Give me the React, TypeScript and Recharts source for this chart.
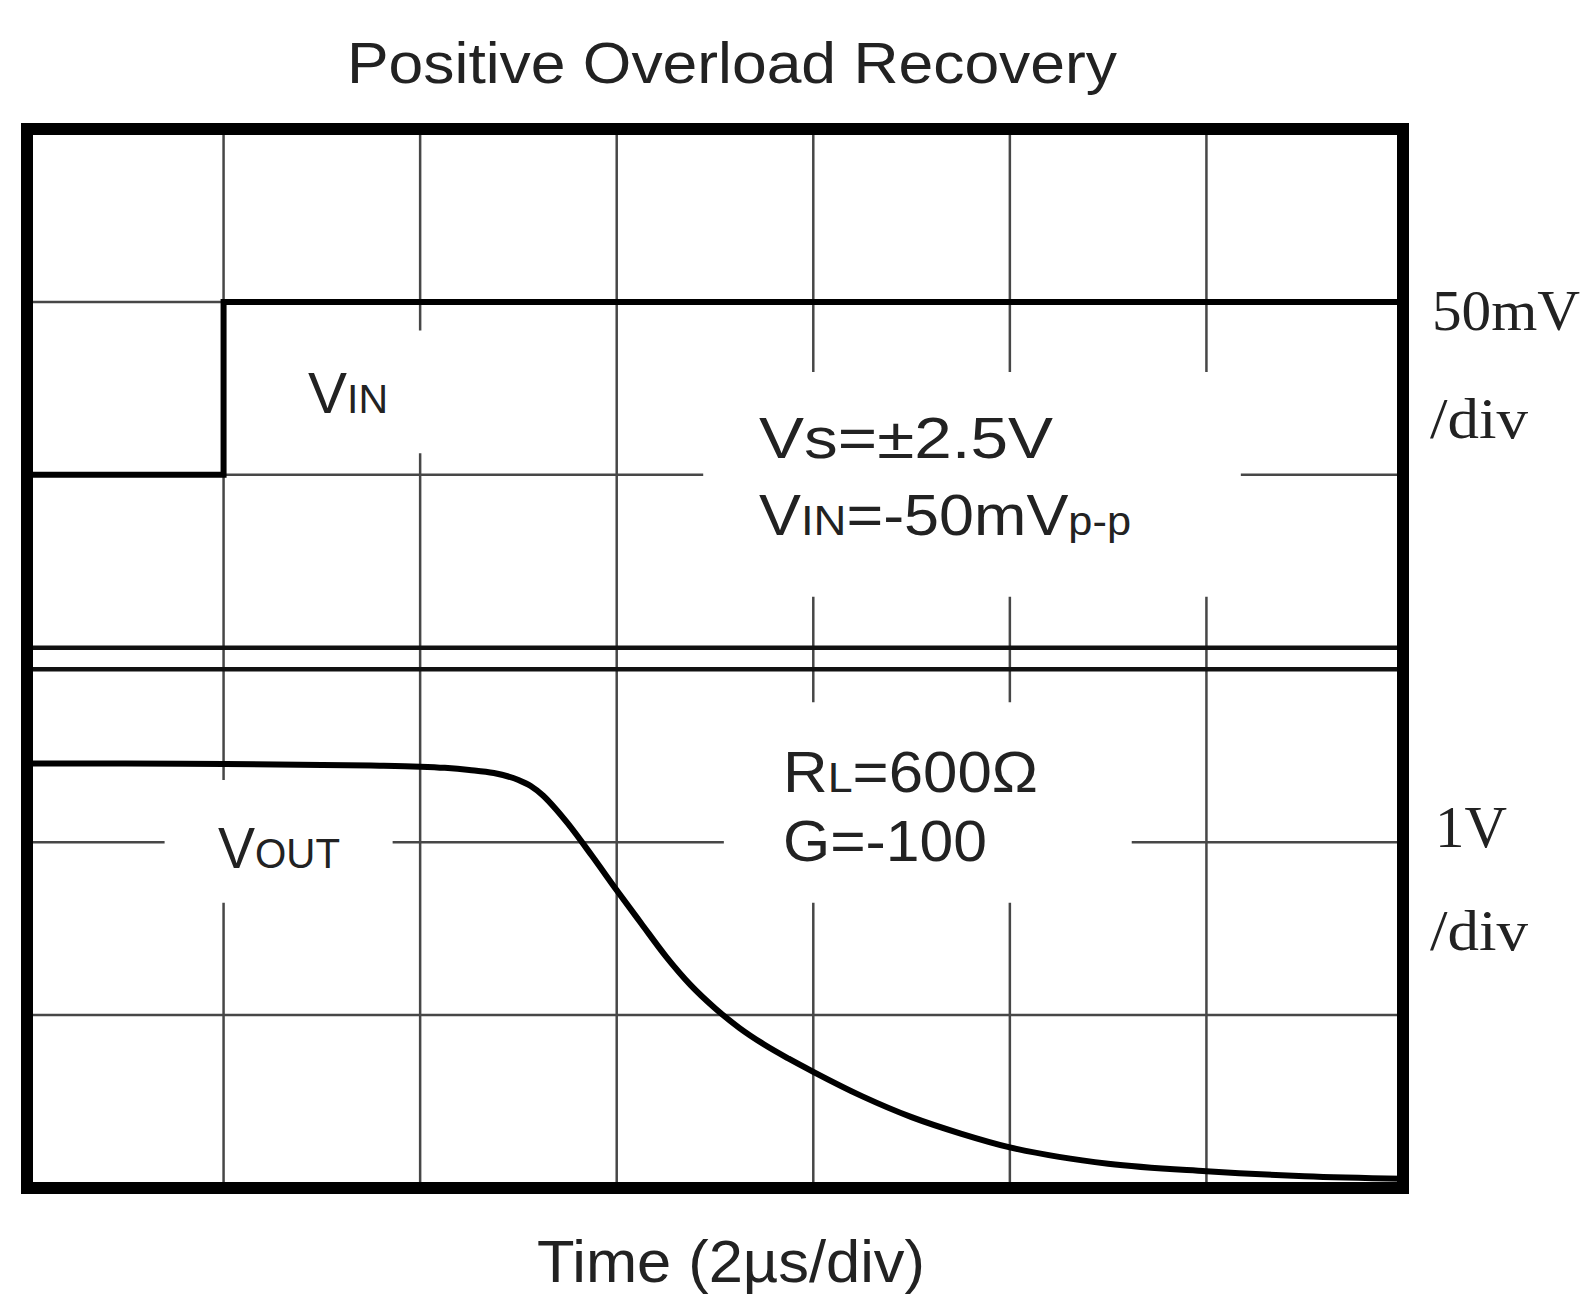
import React from "react";
import {
    ComposedChart, Line, XAxis, YAxis, CartesianGrid, ReferenceLine, ReferenceArea, Customized
} from "recharts";

// time in us, 2us/div, 7 divisions
const timeTicks = [2, 4, 6, 8, 10, 12];

// input step, mV (50mV/div)
const vinTime = [0, 2, 14];
const vinLevel = [-25, 25, 25];

// output recovery, V (1V/div)
const voutTime = [0, 1, 2, 3, 3.5, 4.0, 4.25, 4.5, 4.75, 5.0, 5.125, 5.25, 5.375, 5.5, 5.75, 6.0, 6.25, 6.5, 6.75, 7.0, 7.25, 7.5, 7.75, 8.0, 8.5, 9.0, 9.5, 10.0, 10.5, 11.0, 12.0, 13.0, 14.0];
const voutLevel = [2.455, 2.455, 2.452, 2.447, 2.443, 2.437, 2.43, 2.418, 2.4, 2.36, 2.325, 2.27, 2.195, 2.11, 1.92, 1.722, 1.53, 1.34, 1.175, 1.04, 0.925, 0.83, 0.748, 0.672, 0.53, 0.41, 0.315, 0.235, 0.18, 0.14, 0.097, 0.068, 0.053];

// horizontal grid per panel
const vinGrid = [-25, 25];
const voutGrid = [1, 2];

const vinData = vinTime.map((t, i) => ({ t, vin: vinLevel[i] }));
const voutData = voutTime.map((t, i) => ({ t, vout: voutLevel[i] }));

// axis layout: bottom panel 0..3 V, small gap, top panel 3 divs of 50mV
const PANEL_GAP = 0.125;
const VOUT_DOMAIN = [0, 6 + PANEL_GAP];
const VIN_DOMAIN = [-75 - (3 + PANEL_GAP) * 50, 75];

// white backgrounds behind the annotations (they break the grid)
const labelBoxes = [
    { t1: 2.57, t2: 4.1, v1: 4.25, v2: 4.96 },
    { t1: 6.88, t2: 12.35, v1: 3.42, v2: 4.72 },
    { t1: 1.4, t2: 3.72, v1: 1.65, v2: 2.36 },
    { t1: 7.09, t2: 11.24, v1: 1.65, v2: 2.81 },
];

const SANS = "'Liberation Sans', Arial, sans-serif";
const SERIF = "'Liberation Serif', 'Times New Roman', serif";
const INK = "#222";
const GRID = "#474747";

type Run = { s: string; size: number };

const Txt = ({ x, y, w, runs, family = SANS }: { x: number; y: number; w: number; runs: Run[]; family?: string }) => (
    <text x={x} y={y} textLength={w} lengthAdjust="spacingAndGlyphs" fontFamily={family} fill={INK}>
        {runs.map((r, i) => (
            <tspan key={i} fontSize={r.size}>{r.s}</tspan>
        ))}
    </text>
);

const Annotations = () => (
    <g>
        <Txt x={347} y={83} w={770} runs={[{ s: "Positive Overload Recovery", size: 57 }]} />
        <Txt x={537} y={1282} w={388} runs={[{ s: "Time (2µs/div)", size: 59 }]} />

        <Txt x={308} y={413} w={80} runs={[{ s: "V", size: 57 }, { s: "IN", size: 40 }]} />
        <Txt x={759} y={458} w={294} runs={[{ s: "Vs=±2.5V", size: 58 }]} />
        <Txt x={759} y={535} w={372} runs={[{ s: "V", size: 58 }, { s: "IN", size: 42 }, { s: "=-50mV", size: 58 }, { s: "p-p", size: 40 }]} />

        <Txt x={218} y={868} w={122} runs={[{ s: "V", size: 58 }, { s: "OUT", size: 42 }]} />
        <Txt x={783} y={792} w={255} runs={[{ s: "R", size: 58 }, { s: "L", size: 42 }, { s: "=600Ω", size: 58 }]} />
        <Txt x={783} y={861} w={204} runs={[{ s: "G=-100", size: 58 }]} />

        <Txt x={1432} y={330} w={148} family={SERIF} runs={[{ s: "50mV", size: 57 }]} />
        <Txt x={1430} y={438} w={98} family={SERIF} runs={[{ s: "/div", size: 58 }]} />
        <Txt x={1435} y={847} w={72} family={SERIF} runs={[{ s: "1V", size: 60 }]} />
        <Txt x={1430} y={950} w={98} family={SERIF} runs={[{ s: "/div", size: 58 }]} />
    </g>
);

export default function App() {
    return (
        <div style={{ position: "absolute", left: 0, top: 0, width: 1584, height: 1298, background: "#fff" }}>
            <ComposedChart
                width={1584}
                height={1298}
                margin={{ top: 129, right: 181, bottom: 110, left: 27 }}
            >
                <XAxis type="number" dataKey="t" domain={[0, 14]} ticks={timeTicks} hide allowDataOverflow />
                <YAxis yAxisId="vout" type="number" domain={VOUT_DOMAIN} hide allowDataOverflow />
                <YAxis yAxisId="vin" type="number" domain={VIN_DOMAIN} hide allowDataOverflow />

                <CartesianGrid yAxisId="vout" horizontal={false} stroke={GRID} strokeWidth={2.5} />
                {vinGrid.map((v) => (
                    <ReferenceLine key={`vin-${v}`} yAxisId="vin" y={v} stroke={GRID} strokeWidth={2.5} zIndex={-90} />
                ))}
                {voutGrid.map((v) => (
                    <ReferenceLine key={`vout-${v}`} yAxisId="vout" y={v} stroke={GRID} strokeWidth={2.5} zIndex={-90} />
                ))}

                {labelBoxes.map((b, i) => (
                    <ReferenceArea
                        key={`box-${i}`}
                        yAxisId="vout"
                        x1={b.t1}
                        x2={b.t2}
                        y1={b.v1}
                        y2={b.v2}
                        fill="#fff"
                        fillOpacity={1}
                        stroke="none"
                        zIndex={-80}
                    />
                ))}

                {/* double line between the two traces */}
                <ReferenceLine yAxisId="vout" y={3} stroke="#111" strokeWidth={4.5} zIndex={300} />
                <ReferenceLine yAxisId="vout" y={3 + PANEL_GAP} stroke="#111" strokeWidth={4.5} zIndex={300} />

                <Line
                    data={vinData}
                    dataKey="vin"
                    yAxisId="vin"
                    type="stepAfter"
                    stroke="#000"
                    strokeWidth={6}
                    dot={false}
                    activeDot={false}
                    isAnimationActive={false}
                />
                <Line
                    data={voutData}
                    dataKey="vout"
                    yAxisId="vout"
                    type="monotone"
                    stroke="#000"
                    strokeWidth={6}
                    dot={false}
                    activeDot={false}
                    isAnimationActive={false}
                />

                <ReferenceArea
                    yAxisId="vout"
                    x1={0}
                    x2={14}
                    y1={VOUT_DOMAIN[0]}
                    y2={VOUT_DOMAIN[1]}
                    fill="none"
                    stroke="#000"
                    strokeWidth={12}
                    ifOverflow="visible"
                    zIndex={450}
                />

                <Customized component={Annotations} />
            </ComposedChart>
        </div>
    );
}
